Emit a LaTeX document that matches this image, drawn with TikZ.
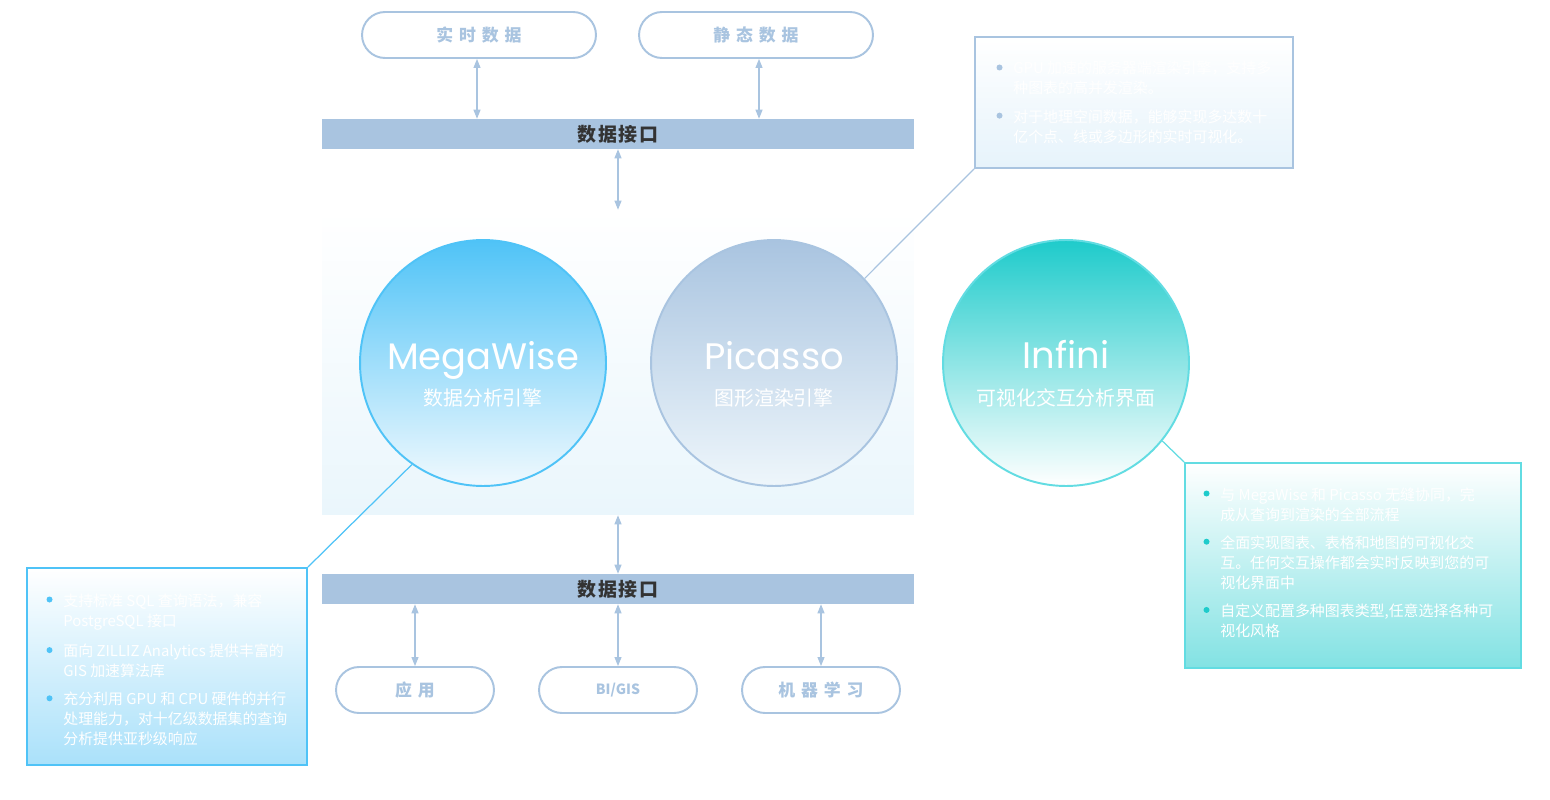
\documentclass[tikz,border=0pt]{standalone}
\usepackage{fontspec}
\setmainfont{Noto Sans CJK SC}
\newfontfamily\latinfont{Poppins}
\newfontfamily\spacedfont[LetterSpace=35]{Noto Sans CJK SC}
\newfontfamily\barfont[LetterSpace=8]{Noto Sans CJK SC}
\usetikzlibrary{positioning,arrows.meta}

\definecolor{paleblue}{HTML}{A9C4E0}
\definecolor{skyblue}{HTML}{4FC3F7}
\definecolor{infteal}{HTML}{1ECBCB}
\definecolor{infline}{HTML}{62DCE2}
\definecolor{bartext}{HTML}{333333}

\begin{document}
\begin{tikzpicture}[x=0.02cm, y=-0.02cm,
pill/.style = {draw=paleblue, line width=1.1pt, rectangle, rounded corners=0.46cm, minimum height=0.92cm, text=paleblue, font=\spacedfont\bfseries\fontsize{9.6}{12}\selectfont},
bar/.style = {fill=paleblue, rectangle, minimum width=11.84cm, minimum height=0.58cm, text=bartext, font=\barfont\bfseries\fontsize{10.8}{12}\selectfont},
link/.style = {paleblue, line width=0.6pt, {Triangle[width=0.14cm,length=0.18cm]}-{Triangle[width=0.14cm,length=0.18cm]}},
engine/.style = {circle, minimum size=4.92cm, line width=1.1pt},
title/.style = {anchor=base, inner sep=0pt, text=white, font=\latinfont\fontsize{21}{24}\selectfont},
subtitle/.style = {anchor=base, inner sep=0pt, text=white, font=\fontsize{11.3}{13}\selectfont},
infobox/.style = {rectangle, line width=1.1pt, top color=white},
item/.style = {anchor=north west, inner sep=0pt, align=left, text=white, font=\fontsize{8.5}{11.4}\selectfont},
dot/.style = {label={[circle, fill=#1, inner sep=0pt, minimum size=0.12cm, anchor=center, xshift=-0.27cm, yshift=-0.13cm]north west:{}}}]

    \fill[white] (0,0) rectangle (1550,800);
    \useasboundingbox (0,0) rectangle (1550,800);

    % core region behind the engines
    \node[rectangle, minimum width=11.84cm, minimum height=6.1cm, top color=white, bottom color={rgb,255:red,234;green,246;blue,252}] (core) at (618,362.5) {};

    % sources and data interface
    \node[pill, minimum width=4.68cm] (rt) at (479,35) {实时数据};
    \node[pill, minimum width=4.68cm] (st) at (756,35) {静态数据};
    \node[bar] (bar1) at (618,134) {数据接口};

    \draw[link] ([xshift=-0.04cm]rt.south) -- ([xshift=-0.04cm]rt.south |- bar1.north);
    \draw[link] ([xshift=0.06cm]st.south) -- ([xshift=0.06cm]st.south |- bar1.north);
    \draw[link] (bar1.south) -- (core.north);

    % engines
    \node[engine, draw=skyblue, top color=skyblue, middle color={rgb,255:red,197;green,235;blue,251}, bottom color={rgb,255:red,240;green,249;blue,254}] (mw) at (483,363) {};
    \node[engine, draw=paleblue, top color=paleblue, middle color={rgb,255:red,220;green,232;blue,243}, bottom color={rgb,255:red,238;green,246;blue,251}] (pc) at (774,363) {};
    \node[engine, draw=infline, top color=infteal, middle color={rgb,255:red,166;green,236;blue,236}, bottom color=white] (inf) at (1066,363) {};

    \node[title] (mwt) at ([yshift=-0.14cm]mw.center) {MegaWise};
    \node[subtitle] (mws) at ([yshift=-0.86cm]mw.center) {数据分析引擎};
    \node[title] (pct) at ([yshift=-0.14cm]pc.center) {Picasso};
    \node[subtitle] (pcs) at ([yshift=-0.86cm]pc.center) {图形渲染引擎};
    \node[title] (inft) at ([yshift=-0.12cm]inf.center) {Infini};
    \node[subtitle] (infs) at ([yshift=-0.86cm]inf.center) {可视化交互分析界面};

    % output interface and consumers
    \node[bar] (bar2) at (618,589) {数据接口};
    \node[pill, minimum width=3.16cm] (app) at (415,690) {应用};
    \node[pill, minimum width=3.16cm, font=\bfseries\fontsize{8}{10}\selectfont] (bi) at (618,690) {BI/GIS};
    \node[pill, minimum width=3.16cm] (ml) at (821,690) {机器学习};

    \draw[link] (core.south) -- (bar2.north);
    \draw[link] (app.north |- bar2.south) -- (app.north);
    \draw[link] (bi.north |- bar2.south) -- (bi.north);
    \draw[link] (ml.north |- bar2.south) -- (ml.north);

    % detail boxes
    \node[infobox, draw=paleblue, bottom color={rgb,255:red,230;green,243;blue,251}, minimum width=6.36cm, minimum height=2.62cm] (pcbox) at (1134,102.5) {};
    \node[infobox, draw=skyblue, bottom color={rgb,255:red,170;green,225;blue,250}, minimum width=5.6cm, minimum height=3.94cm] (mwbox) at (167,666.5) {};
    \node[infobox, draw=infline, bottom color={rgb,255:red,130;green,226;blue,227}, minimum width=6.72cm, minimum height=4.1cm] (infbox) at (1353,565.5) {};

    \draw[paleblue, line width=0.7pt] (pc.43) -- (pcbox.south west);
    \draw[skyblue, line width=0.7pt] (mw.235) -- (mwbox.north east);
    \draw[infline, line width=0.7pt] (inf.-39) -- (infbox.north west);

    \node[item, dot=paleblue] (pc1) at (1013,61) {GPU 加速的服务器端渲染引擎，支持多\\种图表的高并发渲染。};
    \node[item, dot=paleblue, below=0.27cm of pc1.south west, anchor=north west] (pc2) {对于地理空间数据，能够实现多达数十\\亿个点、线或多边形的实时可视化。};

    \node[item, dot=skyblue] (mw1) at (63,593) {支持标准 SQL 查询语法，兼容\\PostgreSQL 接口};
    \node[item, dot=skyblue, below=0.27cm of mw1.south west, anchor=north west] (mw2) {面向 ZILLIZ Analytics 提供丰富的\\GIS 加速算法库};
    \node[item, dot=skyblue, below=0.27cm of mw2.south west, anchor=north west] (mw3) {充分利用 GPU 和 CPU 硬件的并行\\处理能力，对十亿级数据集的查询\\分析提供亚秒级响应};

    \node[item, dot=infteal] (inf1) at (1220,487) {与 MegaWise 和 Picasso 无缝协同，完\\成从查询到渲染的全部流程};
    \node[item, dot=infteal, below=0.27cm of inf1.south west, anchor=north west] (inf2) {全面实现图表、表格和地图的可视化交\\互。任何交互操作都会实时反映到您的可\\视化界面中};
    \node[item, dot=infteal, below=0.27cm of inf2.south west, anchor=north west] (inf3) {自定义配置多种图表类型,任意选择各种可\\视化风格};

\end{tikzpicture}
\end{document}
